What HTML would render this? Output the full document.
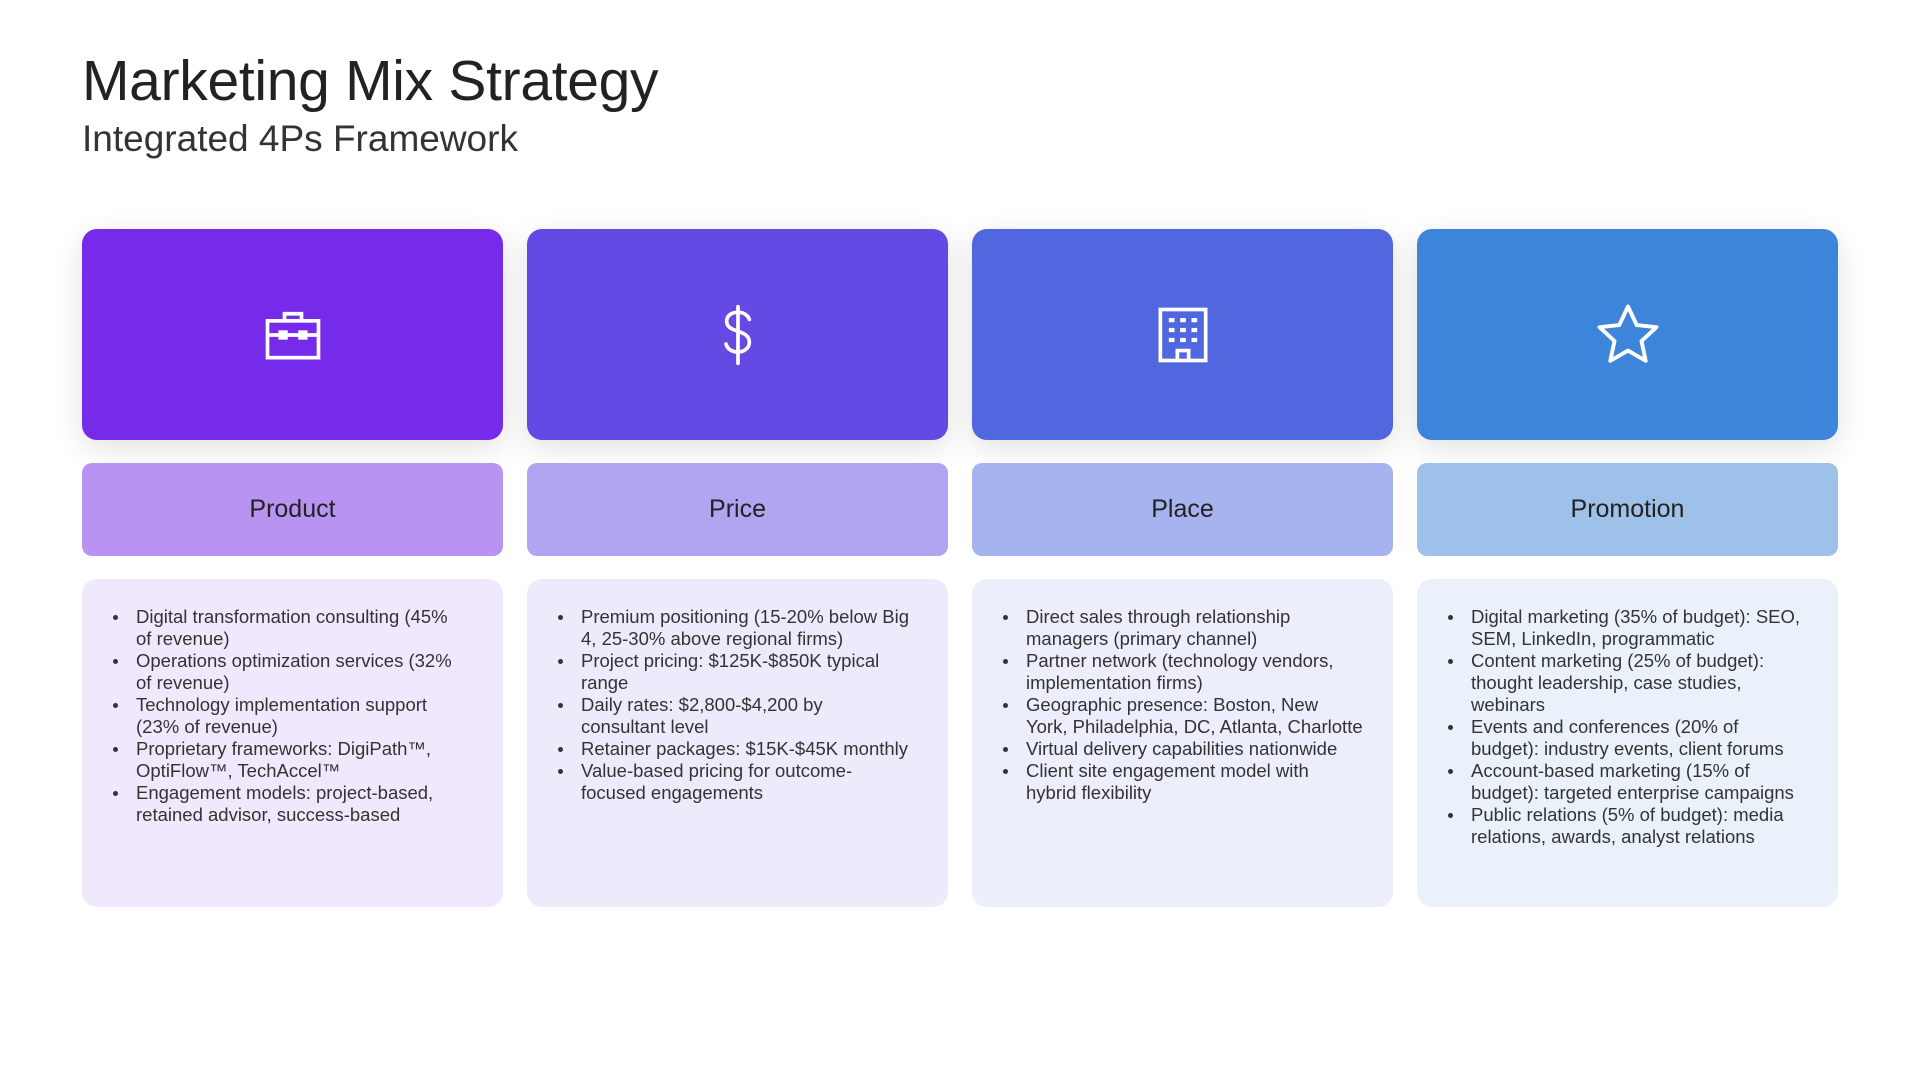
<!DOCTYPE html>
<html><head><meta charset="utf-8"><style>
*{margin:0;padding:0;box-sizing:border-box}
body{width:1920px;height:1080px;background:#fff;font-family:"Liberation Sans",sans-serif;color:#222;position:relative;overflow:hidden}
h1{position:absolute;left:82px;top:48px;font-size:57px;font-weight:500;letter-spacing:-0.3px;color:#222}
h2{position:absolute;left:82px;top:118px;font-size:37px;font-weight:300;color:#333}
.col{position:absolute;top:229px;width:421px}
.top{height:211px;border-radius:15px;display:flex;align-items:center;justify-content:center;box-shadow:0 8px 30px rgba(0,0,0,0.12)}
.lab{margin-top:23px;height:93px;border-radius:10px;display:flex;align-items:center;justify-content:center;font-size:25px;font-weight:500;color:#222}
.body{margin-top:23px;height:328px;border-radius:15px;padding:27px 10px 0 54px;font-size:18.5px;line-height:22px;color:#333;white-space:nowrap}
.body ul{list-style:none}
.body li{position:relative}
.body li:before{content:"";position:absolute;left:-23px;top:9px;width:5px;height:5px;border-radius:50%;background:#333}
</style></head><body>
<h1>Marketing Mix Strategy</h1>
<h2>Integrated 4Ps Framework</h2>

<div class="col" style="left:82px">
<div class="top" style="background:#762AEA"><svg width="68" height="68" viewBox="0 0 24 24" fill="none" stroke="#fff" stroke-width="1.3"><rect x="3" y="7" width="18" height="13"/><path d="M9 7V4.5h6V7"/><path d="M3 12h18"/><rect x="7.5" y="11" width="2" height="2" fill="#fff"/><rect x="14.5" y="11" width="2" height="2" fill="#fff"/></svg></div>
<div class="lab" style="background:#B893F2">Product</div>
<div class="body" style="background:#F0E8FC"><ul>
<li>Digital transformation consulting (45%<br>of revenue)</li>
<li>Operations optimization services (32%<br>of revenue)</li>
<li>Technology implementation support<br>(23% of revenue)</li>
<li>Proprietary frameworks: DigiPath™,<br>OptiFlow™, TechAccel™</li>
<li>Engagement models: project-based,<br>retained advisor, success-based</li></ul></div>
</div>

<div class="col" style="left:527px">
<div class="top" style="background:#6549E4"><svg width="68" height="68" viewBox="0 0 24 24" fill="none" stroke="#fff" stroke-width="1.3" stroke-linecap="round"><path d="M12 2v20"/><path d="M16 6.5c-.5-1.5-2-2.5-4-2.5-2.5 0-4 1.3-4 3.2 0 4.3 8 2.6 8 7.3 0 2-1.7 3.5-4 3.5-2.2 0-3.8-1.1-4.2-2.8"/></svg></div>
<div class="lab" style="background:#B1A4F0">Price</div>
<div class="body" style="background:#EEEAFC"><ul>
<li>Premium positioning (15-20% below Big<br>4, 25-30% above regional firms)</li>
<li>Project pricing: $125K-$850K typical<br>range</li>
<li>Daily rates: $2,800-$4,200 by<br>consultant level</li>
<li>Retainer packages: $15K-$45K monthly</li>
<li>Value-based pricing for outcome-<br>focused engagements</li></ul></div>
</div>

<div class="col" style="left:972px">
<div class="top" style="background:#5067DF"><svg width="68" height="68" viewBox="0 0 24 24" fill="none" stroke="#fff" stroke-width="1.3"><rect x="4" y="3" width="16" height="18"/><g fill="#fff" stroke="none"><rect x="7" y="6" width="2" height="1.5"/><rect x="11" y="6" width="2" height="1.5"/><rect x="15" y="6" width="2" height="1.5"/><rect x="7" y="9.5" width="2" height="1.5"/><rect x="11" y="9.5" width="2" height="1.5"/><rect x="15" y="9.5" width="2" height="1.5"/><rect x="7" y="13" width="2" height="1.5"/><rect x="11" y="13" width="2" height="1.5"/><rect x="15" y="13" width="2" height="1.5"/></g><path d="M10 21v-3.5h4V21"/></svg></div>
<div class="lab" style="background:#A6B3EE">Place</div>
<div class="body" style="background:#ECEEFB"><ul>
<li>Direct sales through relationship<br>managers (primary channel)</li>
<li>Partner network (technology vendors,<br>implementation firms)</li>
<li>Geographic presence: Boston, New<br>York, Philadelphia, DC, Atlanta, Charlotte</li>
<li>Virtual delivery capabilities nationwide</li>
<li>Client site engagement model with<br>hybrid flexibility</li></ul></div>
</div>

<div class="col" style="left:1417px">
<div class="top" style="background:#3D85DA"><svg width="72" height="72" viewBox="0 0 24 24" fill="none" stroke="#fff" stroke-width="1.3" stroke-linejoin="round"><path d="M12 2.5l2.9 6.2 6.6.7-5 4.6 1.4 6.6L12 17.2l-5.9 3.4 1.4-6.6-5-4.6 6.6-.7z"/></svg></div>
<div class="lab" style="background:#9EC1EA">Promotion</div>
<div class="body" style="background:#EBF1FB"><ul>
<li>Digital marketing (35% of budget): SEO,<br>SEM, LinkedIn, programmatic</li>
<li>Content marketing (25% of budget):<br>thought leadership, case studies,<br>webinars</li>
<li>Events and conferences (20% of<br>budget): industry events, client forums</li>
<li>Account-based marketing (15% of<br>budget): targeted enterprise campaigns</li>
<li>Public relations (5% of budget): media<br>relations, awards, analyst relations</li></ul></div>
</div>
</body></html>
